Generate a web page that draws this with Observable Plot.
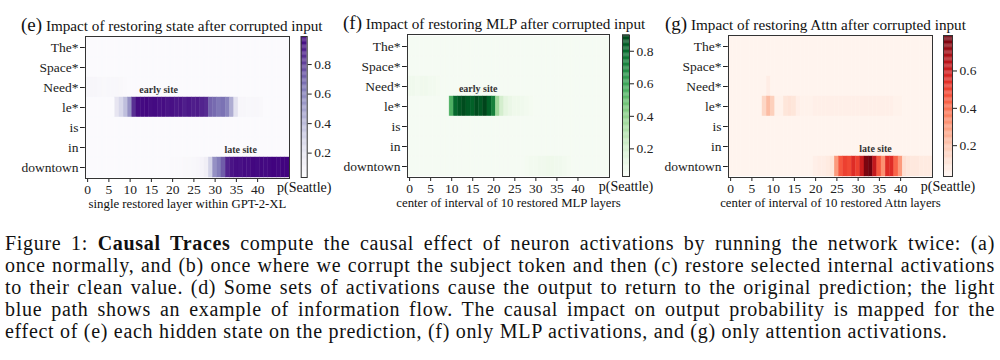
<!DOCTYPE html>
<html><head><meta charset="utf-8">
<script src="https://cdn.jsdelivr.net/npm/d3@7"></script>
<script src="https://cdn.jsdelivr.net/npm/@observablehq/plot@0.6"></script>
<style>
html,body{margin:0;padding:0;background:#fff;}
body{width:1000px;height:360px;position:relative;overflow:hidden;font-family:"Liberation Serif","Times New Roman",serif;color:#111;}
svg, svg text{font-family:"Liberation Serif","Times New Roman",serif !important;}
.abs{position:absolute;}
.title{position:absolute;white-space:nowrap;font-size:15.2px;color:#111;}
.title b{font-weight:normal;font-size:19px;}
.caption{position:absolute;left:5px;top:232px;width:990px;font-size:20px;line-height:22px;letter-spacing:0.7px;color:#111;}
.caption div{text-align:justify;text-align-last:justify;white-space:nowrap;}
</style></head>
<body>
<div class="title" style="left:21px;top:14px"><b>(e)</b> Impact of restoring state after corrupted input</div>
<div class="title" style="left:343px;top:12px"><b>(f)</b> Impact of restoring MLP after corrupted input</div>
<div class="title" style="left:665px;top:13px"><b>(g)</b> Impact of restoring Attn after corrupted input</div>
<div id="e-heat" class="abs" style="left:0;top:0"></div>
<div id="e-bar" class="abs" style="left:290px;top:0"></div>
<div id="f-heat" class="abs" style="left:330px;top:0"></div>
<div id="f-bar" class="abs" style="left:612px;top:0"></div>
<div id="g-heat" class="abs" style="left:655px;top:0"></div>
<div id="g-bar" class="abs" style="left:933px;top:0"></div>
<div class="caption">
<div>Figure 1: <b>Causal Traces</b> compute the causal effect of neuron activations by running the network twice: (a)</div>
<div>once normally, and (b) once where we corrupt the subject token and then (c) restore selected internal activations</div>
<div>to their clean value. (d) Some sets of activations cause the output to return to the original prediction; the light</div>
<div>blue path shows an example of information flow. The causal impact on output probability is mapped for the</div>
<div style="text-align-last:left">effect of (e) each hidden state on the prediction, (f) only MLP activations, and (g) only attention activations.</div>
</div>
<script>
const tokens = ["The*", "Space*", "Need*", "le*", "is", "in", "downtown"];
const layerTicks = [0, 5, 10, 15, 20, 25, 30, 35, 40];

// (e) hidden state restoration, one row per token, 48 layers
const stateRows = [
 [0.04,0.04,0.04,0.04,0.04,0.04,0.04,0.04,0.04,0.04,0.04,0.04,0.04,0.04,0.04,0.04,0.04,0.04,0.04,0.04,0.04,0.04,0.04,0.04,0.04,0.04,0.04,0.04,0.04,0.04,0.04,0.04,0.04,0.04,0.04,0.04,0.04,0.04,0.04,0.04,0.04,0.04,0.04,0.04,0.04,0.04,0.04,0.04],
 [0.04,0.04,0.04,0.04,0.04,0.04,0.04,0.04,0.04,0.04,0.04,0.04,0.04,0.04,0.04,0.04,0.04,0.04,0.04,0.04,0.04,0.04,0.04,0.04,0.04,0.04,0.04,0.04,0.04,0.04,0.04,0.04,0.04,0.04,0.04,0.04,0.04,0.04,0.04,0.04,0.04,0.04,0.04,0.04,0.04,0.04,0.04,0.04],
 [0.08,0.08,0.08,0.07,0.06,0.07,0.07,0.07,0.06,0.05,0.04,0.04,0.04,0.04,0.04,0.04,0.04,0.04,0.04,0.04,0.04,0.04,0.04,0.04,0.04,0.04,0.04,0.04,0.04,0.04,0.04,0.04,0.04,0.04,0.04,0.04,0.04,0.04,0.04,0.04,0.04,0.04,0.04,0.04,0.04,0.04,0.04,0.04],
 [0.04,0.04,0.04,0.04,0.04,0.04,0.04,0.20,0.28,0.38,0.55,0.85,0.95,0.96,0.97,0.95,0.96,0.94,0.95,0.93,0.94,0.92,0.93,0.90,0.92,0.90,0.91,0.88,0.86,0.70,0.68,0.64,0.66,0.60,0.45,0.22,0.08,0.08,0.07,0.07,0.07,0.06,0.04,0.04,0.04,0.04,0.04,0.04],
 [0.04,0.04,0.04,0.04,0.04,0.04,0.04,0.04,0.04,0.04,0.04,0.04,0.04,0.04,0.04,0.04,0.04,0.04,0.04,0.04,0.04,0.04,0.04,0.04,0.04,0.04,0.04,0.04,0.04,0.04,0.04,0.04,0.04,0.04,0.04,0.04,0.04,0.04,0.04,0.04,0.04,0.04,0.04,0.04,0.04,0.04,0.04,0.04],
 [0.04,0.04,0.04,0.04,0.04,0.04,0.04,0.04,0.04,0.04,0.04,0.04,0.04,0.04,0.04,0.04,0.04,0.04,0.04,0.04,0.04,0.04,0.04,0.04,0.04,0.04,0.04,0.04,0.04,0.04,0.04,0.04,0.04,0.04,0.04,0.04,0.04,0.04,0.04,0.04,0.04,0.04,0.04,0.04,0.04,0.04,0.04,0.04],
 [0.04,0.04,0.04,0.04,0.04,0.04,0.04,0.04,0.04,0.04,0.04,0.04,0.04,0.04,0.04,0.04,0.04,0.04,0.04,0.04,0.05,0.05,0.05,0.06,0.06,0.07,0.08,0.10,0.14,0.30,0.55,0.62,0.72,0.88,0.93,0.95,0.94,0.96,0.95,0.97,0.96,0.97,0.96,0.97,0.98,0.97,0.98,0.98]
];

// (f) MLP restoration
const mlpRows = [
 [0.04,0.04,0.04,0.04,0.04,0.04,0.04,0.04,0.04,0.04,0.04,0.04,0.04,0.04,0.04,0.04,0.04,0.04,0.04,0.04,0.04,0.04,0.04,0.04,0.04,0.04,0.04,0.04,0.04,0.04,0.04,0.04,0.04,0.04,0.04,0.04,0.04,0.04,0.04,0.04,0.04,0.04,0.04,0.04,0.04,0.04,0.04,0.04],
 [0.04,0.04,0.04,0.04,0.04,0.04,0.04,0.04,0.04,0.04,0.04,0.04,0.04,0.04,0.04,0.04,0.04,0.04,0.04,0.04,0.04,0.04,0.04,0.04,0.04,0.04,0.04,0.04,0.04,0.04,0.04,0.04,0.04,0.04,0.04,0.04,0.04,0.04,0.04,0.04,0.04,0.04,0.04,0.04,0.04,0.04,0.04,0.04],
 [0.07,0.07,0.06,0.07,0.07,0.06,0.06,0.05,0.04,0.04,0.04,0.04,0.04,0.04,0.04,0.04,0.04,0.04,0.04,0.04,0.04,0.04,0.04,0.04,0.04,0.04,0.04,0.04,0.04,0.04,0.04,0.04,0.04,0.04,0.04,0.04,0.04,0.04,0.04,0.04,0.04,0.04,0.04,0.04,0.04,0.04,0.04,0.04],
 [0.04,0.04,0.04,0.04,0.04,0.04,0.04,0.04,0.04,0.04,0.55,0.80,0.85,0.88,0.84,0.82,0.88,0.85,0.90,0.82,0.72,0.35,0.20,0.13,0.10,0.08,0.08,0.07,0.06,0.05,0.04,0.04,0.04,0.04,0.04,0.04,0.04,0.04,0.04,0.04,0.04,0.04,0.04,0.04,0.04,0.04,0.04,0.04],
 [0.04,0.04,0.04,0.04,0.04,0.04,0.04,0.04,0.04,0.04,0.04,0.04,0.04,0.04,0.04,0.04,0.04,0.04,0.04,0.04,0.04,0.04,0.04,0.04,0.04,0.04,0.04,0.04,0.04,0.04,0.04,0.04,0.04,0.04,0.04,0.04,0.04,0.04,0.04,0.04,0.04,0.04,0.04,0.04,0.04,0.04,0.04,0.04],
 [0.04,0.04,0.04,0.04,0.04,0.04,0.04,0.04,0.04,0.04,0.04,0.04,0.04,0.04,0.04,0.04,0.04,0.04,0.04,0.04,0.04,0.04,0.04,0.04,0.04,0.04,0.04,0.04,0.04,0.04,0.04,0.04,0.04,0.04,0.04,0.04,0.04,0.04,0.04,0.04,0.04,0.04,0.04,0.04,0.04,0.04,0.04,0.04],
 [0.04,0.04,0.04,0.04,0.04,0.04,0.04,0.04,0.04,0.04,0.04,0.04,0.04,0.04,0.04,0.04,0.04,0.04,0.04,0.04,0.04,0.04,0.04,0.04,0.04,0.04,0.04,0.04,0.05,0.06,0.06,0.07,0.07,0.08,0.08,0.07,0.07,0.06,0.05,0.04,0.04,0.04,0.04,0.04,0.04,0.04,0.04,0.04]
];

// (g) Attention restoration
const attnRows = [
 [0.04,0.04,0.04,0.04,0.04,0.04,0.04,0.04,0.04,0.04,0.04,0.04,0.04,0.04,0.04,0.04,0.04,0.04,0.04,0.04,0.04,0.04,0.04,0.04,0.04,0.04,0.04,0.04,0.04,0.04,0.04,0.04,0.04,0.04,0.04,0.04,0.04,0.04,0.04,0.04,0.04,0.04,0.04,0.04,0.04,0.04,0.04,0.04],
 [0.04,0.04,0.04,0.04,0.04,0.04,0.04,0.04,0.04,0.04,0.04,0.04,0.04,0.04,0.04,0.04,0.04,0.04,0.04,0.04,0.04,0.04,0.04,0.04,0.04,0.04,0.04,0.04,0.04,0.04,0.04,0.04,0.04,0.04,0.04,0.04,0.04,0.04,0.04,0.04,0.04,0.04,0.04,0.04,0.04,0.04,0.04,0.04],
 [0.04,0.04,0.04,0.04,0.04,0.04,0.04,0.04,0.04,0.07,0.04,0.04,0.04,0.04,0.04,0.04,0.04,0.04,0.04,0.04,0.04,0.04,0.04,0.04,0.04,0.04,0.04,0.04,0.04,0.04,0.04,0.04,0.04,0.04,0.04,0.04,0.04,0.04,0.04,0.04,0.04,0.04,0.04,0.04,0.04,0.04,0.04,0.04],
 [0.04,0.04,0.04,0.04,0.04,0.04,0.04,0.04,0.15,0.22,0.17,0.05,0.05,0.10,0.11,0.10,0.06,0.05,0.05,0.05,0.06,0.06,0.06,0.06,0.06,0.06,0.06,0.06,0.06,0.06,0.06,0.06,0.06,0.06,0.06,0.06,0.06,0.06,0.06,0.05,0.05,0.04,0.04,0.04,0.04,0.04,0.04,0.04],
 [0.04,0.04,0.04,0.04,0.04,0.04,0.04,0.04,0.04,0.04,0.04,0.04,0.04,0.04,0.04,0.04,0.04,0.04,0.04,0.04,0.04,0.04,0.04,0.04,0.04,0.04,0.04,0.04,0.04,0.04,0.04,0.04,0.04,0.04,0.04,0.04,0.04,0.04,0.04,0.04,0.04,0.04,0.04,0.04,0.04,0.04,0.04,0.04],
 [0.04,0.04,0.04,0.04,0.04,0.04,0.04,0.04,0.04,0.04,0.04,0.04,0.04,0.04,0.04,0.04,0.04,0.04,0.04,0.04,0.04,0.04,0.04,0.04,0.04,0.04,0.04,0.04,0.04,0.04,0.04,0.04,0.04,0.04,0.04,0.04,0.04,0.04,0.04,0.04,0.04,0.04,0.04,0.04,0.04,0.04,0.04,0.04],
 [0.04,0.04,0.04,0.04,0.04,0.04,0.04,0.04,0.04,0.04,0.04,0.04,0.04,0.04,0.04,0.04,0.04,0.04,0.04,0.04,0.06,0.07,0.07,0.08,0.10,0.30,0.45,0.50,0.48,0.55,0.50,0.60,0.76,0.78,0.62,0.45,0.32,0.55,0.55,0.42,0.30,0.12,0.10,0.09,0.09,0.08,0.08,0.08]
];

const stateNotes = [{label: "early site", layer: 16.7, token: "Need*"}, {label: "late site", layer: 36, token: "in"}];
const mlpNotes = [{label: "early site", layer: 16.3, token: "Need*"}];
const attnNotes = [{label: "late site", layer: 34.1, token: "in"}];

const colorbarTicksE = [0.2, 0.4, 0.6, 0.8];
const colorbarTicksF = [0.2, 0.4, 0.6, 0.8];
const colorbarTicksG = [0.2, 0.4, 0.6];

function toTable(rows) {
  const out = [];
  rows.forEach((r, i) => r.forEach((v, layer) => out.push({token: tokens[i], layer, v})));
  return out;
}

const baseStyle = {fontFamily: "Liberation Serif", fontSize: "13.5px", color: "#222", background: "transparent", overflow: "visible"};

function heat(sel, rows, notes, cfg) {
  const data = toTable(rows);
  const p = Plot.plot({
    width: cfg.width, height: 215,
    marginLeft: cfg.ml, marginRight: cfg.width - cfg.fr, marginTop: cfg.top, marginBottom: 215 - cfg.bottom,
    style: baseStyle,
    x: {domain: [-0.5, 47.5], ticks: layerTicks, tickSize: 4, tickPadding: 2, label: null},
    y: {domain: tokens, padding: 0, tickSize: 5, tickPadding: 2, label: null},
    color: {scheme: cfg.scheme, domain: cfg.domain, clamp: true},
    marks: [
      Plot.barX(data, {x1: d => d.layer - 0.5, x2: d => d.layer + 0.5, y: "token", fill: "v", stroke: "v", strokeWidth: 0.4}),
      Plot.frame({stroke: "#333", strokeWidth: 1}),
      Plot.text(notes, {x: "layer", y: "token", text: "label", dy: 2, fontSize: 10, fontWeight: "bold", fill: "#333"}),
      Plot.text([cfg.xlabel], {frameAnchor: "bottom", dy: 29, fontSize: 12.8, fill: "#111"})
    ]
  });
  document.getElementById(sel).appendChild(p);
}

function bar(sel, cfg) {
  const n = 120, lo = cfg.domain[0], hi = cfg.domain[1], step = (hi - lo) / n;
  const ramp = d3.range(n).map(i => lo + i * step);
  const p = Plot.plot({
    width: cfg.width, height: 215,
    marginLeft: cfg.ml, marginRight: cfg.width - cfg.ml - cfg.bw, marginTop: cfg.top, marginBottom: 215 - cfg.bottom,
    style: baseStyle,
    x: {domain: [0, 1], axis: null},
    y: {domain: cfg.domain, axis: "right", ticks: cfg.ticks, tickFormat: d3.format(".1f"), tickSize: 4, tickPadding: 3, label: null},
    color: {scheme: cfg.scheme, domain: cfg.domain},
    marks: [
      Plot.rect(ramp, {x1: 0, x2: 1, y1: d => d, y2: d => Math.min(hi, d + step * 1.05), fill: d => d}),
      Plot.frame({stroke: "#333", strokeWidth: 1}),
      Plot.text(["p(Seattle)"], {frameAnchor: "bottom", dy: 14, fontSize: 14, fill: "#111"})
    ]
  });
  document.getElementById(sel).appendChild(p);
}

heat("e-heat", stateRows, stateNotes, {width: 300, ml: 85, fr: 289, top: 36, bottom: 178, scheme: "purples", domain: [0.035, 0.99], xlabel: "single restored layer within GPT-2-XL"});
bar("e-bar", {width: 50, ml: 10.7, bw: 6, top: 36, bottom: 177, scheme: "purples", domain: [0.035, 0.99], ticks: colorbarTicksE});
heat("f-heat", mlpRows, mlpNotes, {width: 290, ml: 77, fr: 279, top: 34, bottom: 177, scheme: "greens", domain: [0.03, 0.9], xlabel: "center of interval of 10 restored MLP layers"});
bar("f-bar", {width: 50, ml: 10, bw: 7, top: 34.5, bottom: 176, scheme: "greens", domain: [0.03, 0.9], ticks: colorbarTicksF});
heat("g-heat", attnRows, attnNotes, {width: 290, ml: 73, fr: 277, top: 35, bottom: 177, scheme: "reds", domain: [0.035, 0.79], xlabel: "center of interval of 10 restored Attn layers"});
bar("g-bar", {width: 60, ml: 10, bw: 9, top: 35, bottom: 176, scheme: "reds", domain: [0.035, 0.79], ticks: colorbarTicksG});
</script>
</body></html>
